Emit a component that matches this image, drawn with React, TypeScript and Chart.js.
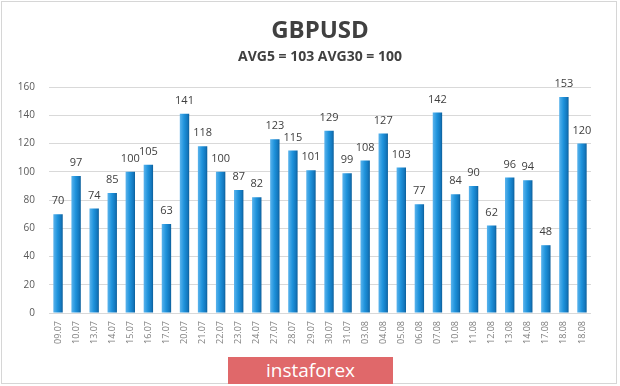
import React, { useEffect, useRef } from "react";
import { Chart, registerables } from "chart.js";

Chart.register(...registerables);

const categories = [
  "09.07", "10.07", "13.07", "14.07", "15.07", "16.07", "17.07", "20.07", "21.07", "22.07",
  "23.07", "24.07", "27.07", "28.07", "29.07", "30.07", "31.07", "03.08", "04.08", "05.08",
  "06.08", "07.08", "10.08", "11.08", "12.08", "13.08", "14.08", "17.08", "18.08", "18.08",
];
const values = [
  70, 97, 74, 85, 100, 105, 63, 141, 118, 100,
  87, 82, 123, 115, 101, 129, 99, 108, 127, 103,
  77, 142, 84, 90, 62, 96, 94, 48, 153, 120,
];
const titleText = "GBPUSD";
const subtitleText = "AVG5 = 103 AVG30 = 100";
const yMin = 0;
const yMax = 160;
const yStep = 20;

const FONT = "'Open Sans', 'DejaVu Sans', sans-serif";

const valueLabels = {
  id: "valueLabels",
  afterDatasetsDraw(chart: any) {
    const ctx = chart.ctx;
    const meta = chart.getDatasetMeta(0);
    ctx.save();
    ctx.font = `11px ${FONT}`;
    ctx.fillStyle = "#404040";
    ctx.textAlign = "center";
    ctx.textBaseline = "middle";
    meta.data.forEach((el: any, i: number) => {
      ctx.fillText(String(chart.data.datasets[0].data[i]), el.x, el.y - 13);
    });
    ctx.restore();
  },
};

export default function App() {
  const ref = useRef<HTMLCanvasElement | null>(null);

  useEffect(() => {
    if (!ref.current) return;
    const chart = new Chart(ref.current, {
      type: "bar",
      data: {
        labels: categories,
        datasets: [
          {
            data: values,
            backgroundColor: (c: any) => {
              const ch = c.chart;
              const xs = ch.scales && ch.scales.x;
              if (!ch.chartArea || !xs || c.dataIndex === undefined) return "#1a8ad4";
              const cx = xs.getPixelForValue(c.dataIndex);
              const g = ch.ctx.createLinearGradient(cx - 5, 0, cx + 5, 0);
              g.addColorStop(0, "#5fb6ee");
              g.addColorStop(0.45, "#1f93dc");
              g.addColorStop(0.8, "#1377bd");
              g.addColorStop(1, "#0b5a93");
              return g;
            },
            borderWidth: 0,
            barPercentage: 0.52,
            categoryPercentage: 1,
          },
        ],
      },
      options: {
        responsive: false,
        animation: false,
        layout: { padding: { left: 0, right: 29, top: 0, bottom: 0 } },
        plugins: {
          legend: { display: false },
          tooltip: { enabled: false },
          title: {
            display: true,
            fullSize: false,
            text: titleText,
            color: "#404040",
            font: { family: FONT, size: 24, weight: "bold" },
            padding: { top: 16.6, bottom: 0 },
          },
          subtitle: {
            display: true,
            fullSize: false,
            text: subtitleText,
            color: "#404040",
            font: { family: FONT, size: 14, weight: "bold" },
            padding: { top: 3.4, bottom: 21.4 },
          },
        },
        scales: {
          x: {
            grid: { display: false, drawTicks: false },
            border: { display: false },
            ticks: {
              color: "#7f7f7f",
              font: { family: FONT, size: 9 },
              minRotation: 90,
              maxRotation: 90,
              autoSkip: false,
              padding: 8,
            },
            afterFit: (s: any) => {
              s.height = 73;
            },
          },
          y: {
            min: yMin,
            max: yMax,
            grid: { color: "#d9d9d9", drawTicks: false },
            border: { display: false },
            ticks: {
              stepSize: yStep,
              color: "#595959",
              font: { family: FONT, size: 10 },
              padding: 14,
            },
            afterFit: (s: any) => {
              s.width = 49;
            },
          },
        },
      },
      plugins: [valueLabels],
    });
    return () => chart.destroy();
  }, []);

  return (
    <div
      style={{
        position: "absolute",
        left: 0,
        top: 0,
        width: 620,
        height: 386,
        background: "#ffffff",
        overflow: "hidden",
      }}
    >
      <canvas ref={ref} width={620} height={386} style={{ display: "block" }} />
      <div
        style={{
          position: "absolute",
          left: 1,
          top: 1,
          width: 616,
          height: 383,
          border: "1px solid #d6d6d6",
          boxSizing: "border-box",
          pointerEvents: "none",
        }}
      />
      <div
        style={{
          position: "absolute",
          left: 228,
          top: 357,
          width: 165,
          height: 27,
          background: "#e0686a",
          color: "#ffffff",
          fontFamily: FONT,
          fontSize: 19,
          lineHeight: "27px",
          textAlign: "center",
        }}
      >
        instaforex
      </div>
    </div>
  );
}
